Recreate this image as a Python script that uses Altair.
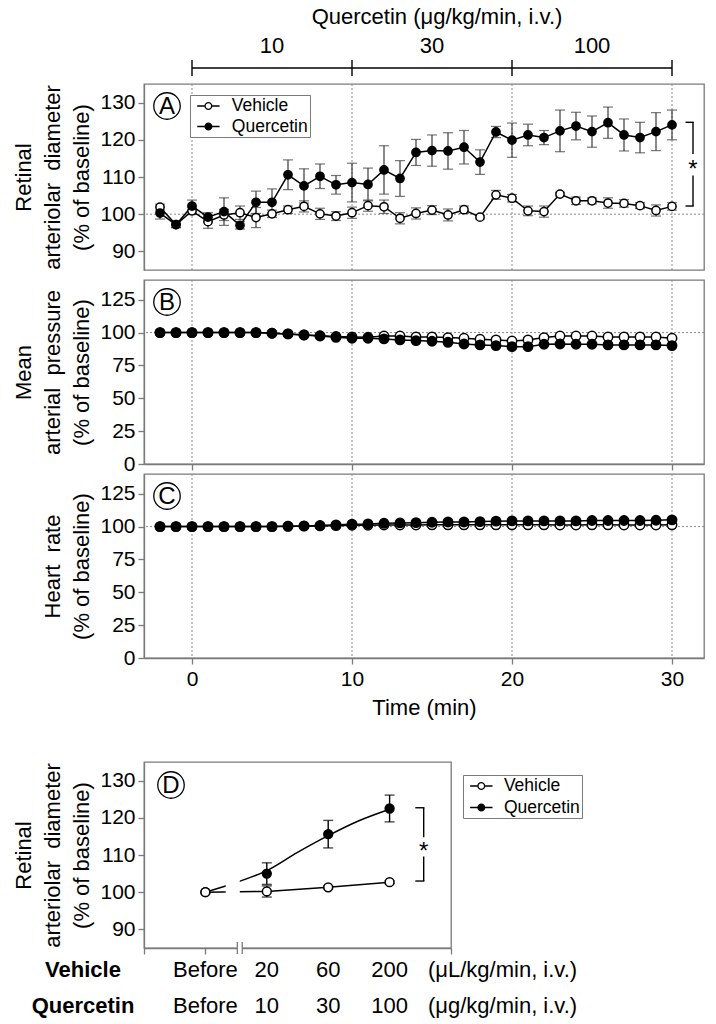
import altair as alt
import pandas as pd

FONT = "Liberation Sans"
FRAME = "#7a7a7a"
GRID = "#8a8a8a"
INK = "black"
ERR = "#3a3a3a"

# ---------------- data ----------------
time_min = [-2, -1, 0, 1, 2, 3, 4, 5, 6, 7, 8, 9, 10, 11, 12, 13, 14, 15, 16,
            17, 18, 19, 20, 21, 22, 23, 24, 25, 26, 27, 28, 29, 30]

diam_vehicle = [101.9, 97.2, 100.9, 98.0, 99.8, 100.4, 99.1, 100.1, 101.2, 102.1,
                100.1, 99.5, 100.4, 102.3, 102.0, 98.9, 100.2, 101.1, 99.8, 101.2,
                99.2, 105.2, 104.3, 100.9, 100.7, 105.4, 103.6, 103.6, 103.0, 102.9,
                102.3, 101.0, 102.1]
diam_vehicle_err = [0.8, 0.8, 1.0, 1.8, 1.5, 1.8, 2.7, 1.0, 1.0, 1.5,
                    1.5, 1.2, 1.5, 1.5, 1.8, 1.5, 1.5, 1.2, 1.6, 1.0,
                    0.5, 1.2, 1.0, 1.3, 1.5, 0.5, 1.0, 0.8, 1.4, 1.0,
                    0.8, 1.5, 1.0]
diam_quercetin = [100.3, 97.2, 102.2, 99.2, 100.7, 97.0, 103.2, 103.2, 110.6, 107.6,
                  110.2, 107.9, 108.5, 108.0, 111.9, 109.6, 116.6, 117.1, 117.0, 118.0,
                  114.0, 122.1, 119.9, 121.3, 120.6, 122.4, 123.7, 122.2, 124.6, 121.3,
                  120.6, 122.2, 124.0]
diam_quercetin_err = [1.6, 0.8, 1.6, 1.2, 3.7, 1.0, 3.0, 3.6, 4.0, 4.6,
                      3.3, 2.5, 5.2, 4.4, 6.5, 4.8, 3.5, 4.2, 4.9, 4.5,
                      3.3, 1.5, 4.6, 2.9, 1.9, 5.6, 3.7, 4.2, 4.2, 4.3,
                      4.1, 5.1, 4.0]

map_vehicle = [100, 100, 100, 100, 100, 100, 100, 99.5, 99.0, 98.2,
               97.6, 97.0, 96.7, 96.4, 97.4, 97.4, 96.7, 96.7, 96.2, 95.7,
               94.9, 94.4, 93.6, 94.4, 96.2, 97.4, 97.4, 97.4, 96.7, 96.7,
               96.7, 96.7, 95.7]
map_quercetin = [100, 100, 100, 100, 100, 100, 100, 99.5, 99.0, 98.2,
                 97.4, 96.4, 95.7, 95.7, 95.2, 94.4, 93.9, 93.4, 92.6, 91.3,
                 90.6, 90.1, 89.3, 89.3, 91.1, 91.3, 91.1, 91.1, 90.6, 90.6,
                 90.6, 90.6, 90.1]

hr_vehicle = [100, 100, 100, 100, 100, 100, 100, 100, 100.2, 100.3,
              100.5, 100.7, 101.0, 101.0, 101.2, 101.2, 101.2, 101.3, 101.3, 101.3,
              101.3, 101.3, 101.3, 101.3, 101.3, 101.2, 101.2, 101.3, 101.3, 101.2,
              101.2, 101.2, 101.3]
hr_quercetin = [100, 100, 100, 100, 100, 100, 100, 100, 100.3, 100.5,
                100.8, 101.3, 101.8, 102.0, 102.5, 102.8, 103.0, 103.3, 103.5, 103.5,
                103.8, 104.1, 104.3, 104.3, 104.3, 104.3, 104.3, 104.6, 104.6, 104.6,
                104.6, 104.8, 105.1]

series_names = ["Vehicle", "Quercetin"]
ref_times = [0, 10, 20, 30]
baseline_pct = [100]

dose_starts = [0, 10, 20]
dose_ends = [10, 20, 30]
dose_labels = ["10", "30", "100"]
dose_title = "Quercetin  (\u03bcg/kg/min,  i.v.)"

# significance brackets (upper, lower ends)
sig_a = [124.7, 102.2]
sig_d = [122.7, 103.0]

# panel D
d_pos = [0, 1, 2, 3]
d_vehicle_labels = ["Before", "20", "60", "200"]
d_quercetin_labels = ["Before", "10", "30", "100"]
d_vehicle = [100.0, 100.2, 101.3, 102.7]
d_vehicle_err = [0.0, 1.5, 0.4, 0.4]
d_quercetin = [100.0, 105.0, 115.6, 122.5]
d_quercetin_err = [0.0, 2.9, 3.7, 3.6]
fit_pos = [0, 0.5, 1.0, 1.5, 2.0, 2.5, 3.0]
fit_quercetin = [100.0, 102.6, 105.8, 110.7, 115.2, 119.2, 122.3]
d_units = ["(\u03bcL/kg/min,  i.v.)", "(\u03bcg/kg/min,  i.v.)"]
d_rows = ["Vehicle", "Quercetin"]

# ---------------- helpers ----------------
LEG_PATH = ("M-1.4,0H-0.42M0.42,0H1.4M-0.42,0A0.42,0.42,0,1,1,0.42,0"
            "A0.42,0.42,0,1,1,-0.42,0Z")
fill_scale = alt.Scale(domain=series_names, range=["white", "black"])


def make_legend(lx, ly, sym_off, lab_off, row_pad):
    return alt.Legend(orient="none", legendX=lx, legendY=ly, title=None,
                      symbolType=LEG_PATH, symbolSize=256, symbolStrokeColor=INK,
                      symbolStrokeWidth=1.3, symbolOffset=sym_off, labelOffset=lab_off,
                      labelFont=FONT, labelFontSize=17.5, labelColor=INK,
                      padding=2, rowPadding=row_pad, strokeColor=FRAME, fillColor="white",
                      symbolOpacity=1)


def long_df(x, v, q, ve=None, qe=None, xname="time"):
    rows = []
    for i, xv in enumerate(x):
        rows.append({xname: xv, "series": "Vehicle", "value": v[i],
                     "lo": v[i] - (ve[i] if ve else 0), "hi": v[i] + (ve[i] if ve else 0)})
    for i, xv in enumerate(x):
        rows.append({xname: xv, "series": "Quercetin", "value": q[i],
                     "lo": q[i] - (qe[i] if qe else 0), "hi": q[i] + (qe[i] if qe else 0)})
    return pd.DataFrame(rows)


def y_axis(values, title):
    return alt.Axis(values=values, title=title, titlePadding=6, tickSize=6,
                    labelPadding=3, titleLineHeight=29)


def letter_layers(letter, px, py):
    d = pd.DataFrame({"letter": [letter]})
    circ = alt.Chart(d).mark_point(shape="circle", size=700, filled=True, fill="white",
                                   stroke=INK, strokeWidth=1.3, opacity=1).encode(
        x=alt.value(px), y=alt.value(py))
    txt = alt.Chart(d).mark_text(font=FONT, fontSize=24, color=INK, baseline="middle",
                                 align="center", dy=1).encode(
        x=alt.value(px), y=alt.value(py), text="letter:N")
    return [circ, txt]


xscale_t = alt.Scale(domain=[-3, 32], nice=False, zero=False)


def time_panel(v, q, ve, qe, ydomain, yvals, ytitle, letter, height,
               show_labels, psize, legend, extras_fn=None):
    yscale = alt.Scale(domain=ydomain, nice=False, zero=False)
    if show_labels:
        xaxis = alt.Axis(values=ref_times, title="Time (min)", tickSize=6,
                         labelPadding=4, titlePadding=8, titleFontSize=22)
    else:
        xaxis = alt.Axis(values=ref_times, title=None, labels=False, tickSize=6)
    yaxis = y_axis(yvals, ytitle)
    X = alt.X("time:Q", scale=xscale_t, axis=xaxis)
    Y = alt.Y("value:Q", scale=yscale, axis=yaxis)

    df = long_df(time_min, v, q, ve, qe)
    base = alt.Chart(df)
    layers = []
    layers.append(alt.Chart(pd.DataFrame({"time": ref_times})).mark_rule(
        color=GRID, strokeDash=[2, 2], strokeWidth=1).encode(x=X))
    layers.append(alt.Chart(pd.DataFrame({"value": baseline_pct})).mark_rule(
        color=GRID, strokeDash=[2, 2], strokeWidth=1).encode(y=Y))
    if ve is not None:
        layers.append(base.mark_rule(color=ERR, strokeWidth=1.2).encode(
            x=X, y=alt.Y("lo:Q", scale=yscale, axis=yaxis), y2="hi:Q"))
        for f in ["lo", "hi"]:
            layers.append(base.mark_tick(orient="horizontal", size=10, thickness=1.2,
                                         color=ERR).encode(
                x=X, y=alt.Y(f + ":Q", scale=yscale, axis=yaxis)))
    order = ["Vehicle", "Quercetin"]
    for s in order:
        layers.append(base.transform_filter(alt.datum.series == s).mark_line(
            color=INK, strokeWidth=1.5).encode(x=X, y=Y))
    for s in order:
        layers.append(base.transform_filter(alt.datum.series == s).mark_point(
            shape="circle", filled=True, size=psize, stroke=INK, strokeWidth=1.5,
            opacity=1).encode(x=X, y=Y,
                              fill=alt.Fill("series:N", scale=fill_scale, legend=legend)))
    layers += letter_layers(letter, 23, 22)
    if extras_fn is not None:
        layers += extras_fn(X, yscale, yaxis)
    return alt.layer(*layers).properties(width=560, height=height)


def extras_a(X, yscale, yaxis):
    out = []
    ddf = pd.DataFrame({"time": dose_starts, "time_end": dose_ends, "dose": dose_labels})
    ddf["mid"] = [(a + b) / 2 for a, b in zip(dose_starts, dose_ends)]
    out.append(alt.Chart(ddf).mark_rule(color=INK, strokeWidth=1.4).encode(
        x=X, x2="time_end:Q", y=alt.value(-16)))
    out.append(alt.Chart(pd.DataFrame({"time": ref_times})).mark_rule(
        color=INK, strokeWidth=1.4).encode(x=X, y=alt.value(-24), y2=alt.value(-8)))
    out.append(alt.Chart(ddf).mark_text(font=FONT, fontSize=22, color=INK,
                                        baseline="middle").encode(
        x=alt.X("mid:Q", scale=xscale_t, axis=None), y=alt.value(-38), text="dose:N"))
    out.append(alt.Chart(pd.DataFrame({"t": [dose_title]})).mark_text(
        font=FONT, fontSize=22, color=INK, baseline="middle").encode(
        x=alt.value(293), y=alt.value(-67), text="t:N"))
    # significance bracket
    sdf = pd.DataFrame({"value": sig_a, "gap": [116.2, 110.4]})
    Ys = alt.Y("value:Q", scale=yscale, axis=yaxis)
    out.append(alt.Chart(sdf).mark_rule(color=INK, strokeWidth=1.4).encode(
        x=alt.value(549), y=Ys, y2="gap:Q"))
    out.append(alt.Chart(sdf).mark_rule(color=INK, strokeWidth=1.4).encode(
        x=alt.value(541.5), x2=alt.value(549.7), y=Ys))
    out.append(alt.Chart(pd.DataFrame({"value": [113.3], "s": ["*"]})).mark_text(
        font=FONT, fontSize=24, color=INK, baseline="middle", dy=5).encode(
        x=alt.value(549), y=Ys, text="s:N"))
    return out


panel_a = time_panel(diam_vehicle, diam_quercetin, diam_vehicle_err, diam_quercetin_err,
                     [85, 135], [90, 100, 110, 120, 130],
                     ["Retinal", "arteriolar\u00a0 diameter", "(% of baseline)"], "A", 186,
                     False, 68, make_legend(46, 11, 7.4, 14.4, 2.5), extras_a)
panel_b = time_panel(map_vehicle, map_quercetin, None, None, [0, 140],
                     [0, 25, 50, 75, 100, 125],
                     ["Mean", "arterial\u00a0 pressure", "(% of baseline)"], "B", 184,
                     False, 88, None)
panel_c = time_panel(hr_vehicle, hr_quercetin, None, None, [0, 140],
                     [0, 25, 50, 75, 100, 125],
                     ["Heart\u00a0 rate", "(% of baseline)"], "C", 184,
                     True, 88, None)

# ---------------- panel D ----------------
xscale_d = alt.Scale(domain=[-1, 4], nice=False, zero=False)
yscale_d = alt.Scale(domain=[85, 135], nice=False, zero=False)
xaxis_d = alt.Axis(values=[-1, 0, 4], title=None, labels=False, tickSize=6)
yaxis_d = y_axis([90, 100, 110, 120, 130],
                 ["Retinal", "arteriolar\u00a0 diameter", "(% of baseline)"])
XD = alt.X("pos:Q", scale=xscale_d, axis=xaxis_d)
YD = alt.Y("value:Q", scale=yscale_d, axis=yaxis_d)

ddf = long_df(d_pos, d_vehicle, d_quercetin, d_vehicle_err, d_quercetin_err, xname="pos")
ddf_err = ddf[ddf["hi"] > ddf["lo"]]
bd = alt.Chart(ddf)
d_layers = []
d_layers.append(alt.Chart(ddf_err).mark_rule(color=INK, strokeWidth=1.4).encode(
    x=XD, y=alt.Y("lo:Q", scale=yscale_d, axis=yaxis_d), y2="hi:Q"))
for f in ["lo", "hi"]:
    d_layers.append(alt.Chart(ddf_err).mark_tick(orient="horizontal", size=10,
                                                 thickness=1.4, color=INK).encode(
        x=XD, y=alt.Y(f + ":Q", scale=yscale_d, axis=yaxis_d)))
d_layers.append(bd.transform_filter(alt.datum.series == "Vehicle").mark_line(
    color=INK, strokeWidth=1.5).encode(x=XD, y=YD))
d_layers.append(alt.Chart(pd.DataFrame({"pos": fit_pos, "value": fit_quercetin})).mark_line(
    color=INK, strokeWidth=1.5, interpolate="monotone").encode(x=XD, y=YD))
# axis-break mask across the lines
d_layers.append(alt.Chart(pd.DataFrame({"a": [0]})).mark_rect(color="white").encode(
    x=alt.X(datum=0.33, scale=xscale_d, axis=xaxis_d), x2=alt.datum(0.56),
    y=alt.Y(datum=97, scale=yscale_d, axis=yaxis_d), y2=alt.datum(106)))
# axis-break on the bottom axis
d_layers.append(alt.Chart(pd.DataFrame({"a": [0]})).mark_rect(color="white").encode(
    x=alt.X(datum=0.52, scale=xscale_d, axis=xaxis_d), x2=alt.datum(0.6),
    y=alt.value(182), y2=alt.value(190)))
d_layers.append(alt.Chart(pd.DataFrame({"pos": [0.52, 0.6]})).mark_rule(
    color=FRAME, strokeWidth=1.3).encode(x=XD, y=alt.value(180), y2=alt.value(192)))
for s in ["Quercetin", "Vehicle"]:
    d_layers.append(bd.transform_filter(alt.datum.series == s).mark_point(
        shape="circle", filled=True, size=78, stroke=INK, strokeWidth=1.5,
        opacity=1).encode(x=XD, y=YD,
                          fill=alt.Fill("series:N", scale=fill_scale,
                                        legend=make_legend(319, 13, 7.3, 13.6, 3.5))))
# significance bracket
sdd = pd.DataFrame({"value": sig_d, "gap": [114.8, 109.6]})
d_layers.append(alt.Chart(sdd).mark_rule(color=INK, strokeWidth=1.4).encode(
    x=alt.value(279.7), y=YD, y2="gap:Q"))
d_layers.append(alt.Chart(sdd).mark_rule(color=INK, strokeWidth=1.4).encode(
    x=alt.value(271.3), x2=alt.value(280.4), y=YD))
d_layers.append(alt.Chart(pd.DataFrame({"value": [112.2], "s": ["*"]})).mark_text(
    font=FONT, fontSize=24, color=INK, baseline="middle", dy=5).encode(
    x=alt.value(279.7), y=YD, text="s:N"))
d_layers += letter_layers("D", 27, 23)
# category rows under the axis
rows_df = pd.DataFrame({"pos": d_pos, "veh": d_vehicle_labels, "que": d_quercetin_labels})
d_layers.append(alt.Chart(rows_df).mark_text(font=FONT, fontSize=22, color=INK,
                                             baseline="middle").encode(
    x=XD, y=alt.value(208), text="veh:N"))
d_layers.append(alt.Chart(rows_df).mark_text(font=FONT, fontSize=22, color=INK,
                                             baseline="middle").encode(
    x=XD, y=alt.value(244), text="que:N"))
hdr = pd.DataFrame({"row": d_rows, "unit": d_units})
for i, ypx in enumerate([208, 244]):
    one = hdr.iloc[[i]]
    d_layers.append(alt.Chart(one).mark_text(font=FONT, fontSize=22, fontWeight="bold",
                                             color=INK, baseline="middle").encode(
        x=alt.value(-61), y=alt.value(ypx), text="row:N"))
    d_layers.append(alt.Chart(one).mark_text(font=FONT, fontSize=22, color=INK,
                                             baseline="middle", align="left").encode(
        x=alt.value(284), y=alt.value(ypx), text="unit:N"))

panel_d = alt.layer(*d_layers).properties(width=307, height=186)

top = alt.vconcat(panel_a, panel_b, panel_c, spacing=10, bounds="flush").resolve_scale(
    fill="independent").resolve_legend(fill="independent")

chart = alt.vconcat(top, panel_d, spacing=42).resolve_scale(
    fill="independent").resolve_legend(fill="independent").properties(
    padding={"left": 12, "top": 5, "right": 5, "bottom": 5}
).configure_view(stroke=FRAME, strokeWidth=1.3).configure_axis(
    labelFont=FONT, titleFont=FONT, labelFontSize=21, titleFontSize=22,
    labelColor=INK, titleColor=INK, titleFontWeight="normal", tickColor=FRAME,
    domainColor=FRAME, domainWidth=1.3, tickWidth=1.3, grid=False
)

chart.save("out.html", embed_options={"renderer": "svg", "actions": False})
